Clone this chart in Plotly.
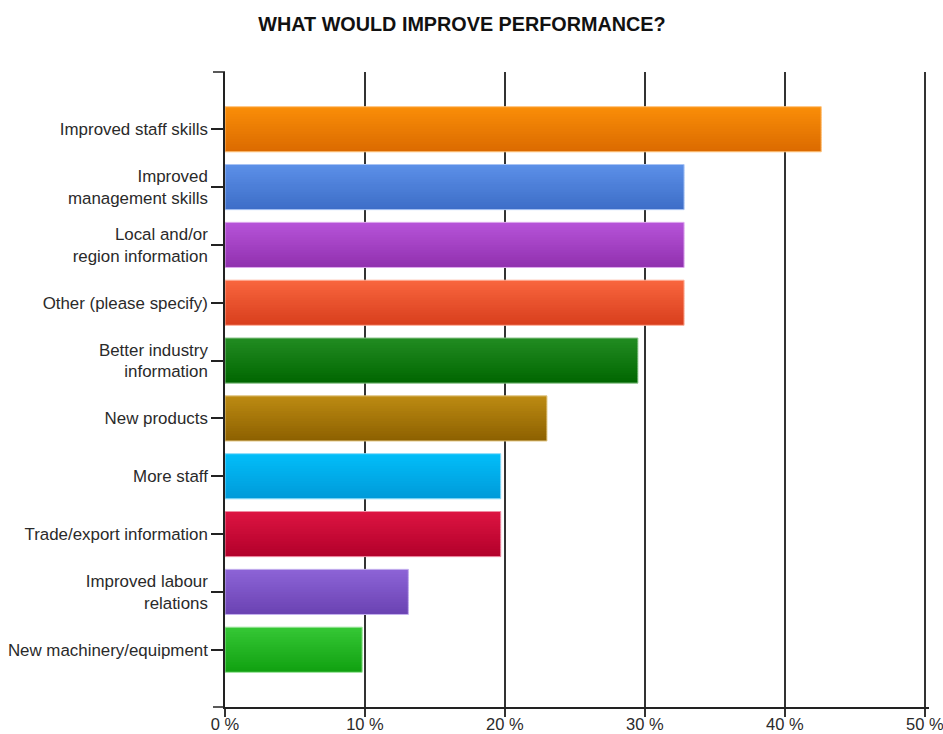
import plotly.graph_objects as go

# Survey answers (share of respondents, %)
categories = [
    "Improved staff skills",
    "Improved<br>management skills",
    "Local and/or<br>region information",
    "Other (please specify)",
    "Better industry<br>information",
    "New products",
    "More staff",
    "Trade/export information",
    "Improved labour<br>relations",
    "New machinery/equipment",
]
values = [42.6, 32.8, 32.8, 32.8, 29.5, 23.0, 19.7, 19.7, 13.1, 9.8]

# Top and bottom colour of each bar's vertical gradient
top_colors = ["#FA8E08", "#5C90E8", "#B754D9", "#F9663F", "#228C22",
              "#BD8B12", "#02BEF9", "#DD1442", "#8D64D7", "#36C836"]
bottom_colors = ["#DB6A00", "#3D6DC7", "#9030AE", "#D83E1C", "#006600",
                 "#8C6000", "#009AD9", "#B2002A", "#6A42B2", "#10A010"]
edge_colors = ["#FFC27A", "#A8C4F4", "#DDA8EE", "#FFB09A", "#8CC48C",
               "#E0C480", "#8ADCFA", "#F08CA4", "#C4B0EE", "#9AE49A"]

tick_vals = [0, 10, 20, 30, 40, 50]
tick_text = ["0 %", "10 %", "20 %", "30 %", "40 %", "50 %"]


def hex_to_rgb(h):
    h = h.lstrip("#")
    return tuple(int(h[i:i + 2], 16) for i in (0, 2, 4))


def mix(c1, c2, t):
    a, b = hex_to_rgb(c1), hex_to_rgb(c2)
    r = [round(a[k] + (b[k] - a[k]) * t) for k in range(3)]
    return "rgb({},{},{})".format(*r)


BAR_W = 0.78
BANDS = 18
band_w = BAR_W / BANDS
positions = list(range(len(categories)))

fig = go.Figure()

# Each bar is built from thin stacked bands that shade from top to bottom colour
for i in range(BANDS):
    t = (i + 0.5) / BANDS
    extra = band_w * 0.6 if i < BANDS - 1 else 0
    fig.add_trace(go.Bar(
        y=positions,
        x=values,
        orientation="h",
        width=[band_w + extra] * len(values),
        offset=-BAR_W / 2 + i * band_w,
        marker=dict(color=[mix(a, b, t) for a, b in zip(top_colors, bottom_colors)],
                    line=dict(width=0), opacity=1),
        hoverinfo="skip",
        showlegend=False,
    ))

# Light rim around each bar
fig.add_trace(go.Bar(
    y=positions,
    x=values,
    orientation="h",
    width=[BAR_W] * len(values),
    offset=-BAR_W / 2,
    marker=dict(color="rgba(0,0,0,0)", opacity=1,
                line=dict(color=edge_colors, width=1)),
    hovertemplate="%{x:.1f} %<extra></extra>",
    showlegend=False,
))

axis_font = dict(family="Liberation Sans, Arial, sans-serif", size=16.9, color="#2a2a2a")
x_font = dict(family="Liberation Sans, Arial, sans-serif", size=16.5, color="#2a2a2a")

fig.update_layout(
    width=943,
    height=734,
    barmode="overlay",
    paper_bgcolor="white",
    plot_bgcolor="white",
    margin=dict(l=225, r=14, t=72, b=26.5),
    title=dict(
        text="<b>WHAT WOULD IMPROVE PERFORMANCE?</b>",
        font=dict(family="Liberation Sans, Arial, sans-serif", size=19.8, color="#111111"),
        x=462 / 943, xanchor="center", xref="container",
        y=1 - 24 / 734, yanchor="middle", yref="container",
    ),
    xaxis=dict(
        range=[0, 50.3],
        tickvals=tick_vals,
        ticktext=tick_text,
        showgrid=True,
        gridcolor="#333333",
        gridwidth=1.5,
        zeroline=False,
        showline=True,
        linecolor="#222222",
        linewidth=1.5,
        ticks="outside",
        ticklen=8,
        tickwidth=1.5,
        tickcolor="#333333",
        tickfont=x_font,
        ticklabelstandoff=-7,
        ticklabeloverflow="allow",
        automargin=False,
        fixedrange=True,
    ),
    yaxis=dict(
        range=[len(categories) - 0.01, -0.99],
        tickvals=positions,
        ticktext=categories,
        showgrid=False,
        zeroline=False,
        showline=True,
        linecolor="#222222",
        linewidth=1.5,
        ticks="outside",
        ticklen=12,
        tickwidth=1.5,
        tickcolor="#222222",
        tickfont=axis_font,
        automargin=False,
        fixedrange=True,
    ),
    shapes=[
        # end ticks of the category axis
        dict(type="line", xref="paper", yref="paper", x0=-12 / 704, x1=0, y0=1, y1=1,
             line=dict(color="#222222", width=1.5)),
        dict(type="line", xref="paper", yref="paper", x0=-12 / 704, x1=0, y0=0, y1=0,
             line=dict(color="#222222", width=1.5)),
    ],
)

fig.write_html("out.html")
